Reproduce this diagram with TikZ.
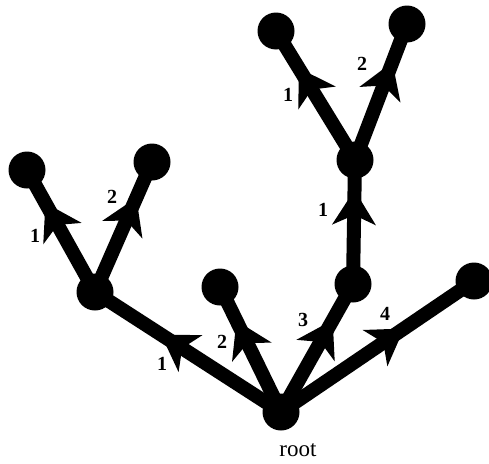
\documentclass[tikz,border=0pt]{standalone}
\usepackage{fontspec}
\setmainfont{Liberation Serif}
\usetikzlibrary{decorations.markings}
\begin{document}
\begin{tikzpicture}[x=1pt,y=-1pt,
  dot/.style={circle,fill=black,draw=none,minimum size=37pt,inner sep=0pt},
  edge/.style={line width=14pt,black,
    postaction={decorate},
    decoration={markings,mark=at position 0.5 with {\fill[black] (32pt,0) -- (-3pt,22pt) -- (7pt,0) -- (-3pt,-22pt) -- cycle;}}},
  lbl/.style={font=\bfseries\fontsize{20}{22}\selectfont,inner sep=0pt},
  rootlbl/.style={font=\fontsize{23}{26}\selectfont,inner sep=0pt,anchor=base}]
\useasboundingbox (0,0) rectangle (489,463);
% nodes
\node[dot] (r) at (281,412) {};
\node[dot] (a) at (95,292) {};
\node[dot] (a1) at (27,170) {};
\node[dot] (a2) at (152,162) {};
\node[dot] (b) at (220,287) {};
\node[dot] (c) at (353,284) {};
\node[dot] (c1) at (355,160) {};
\node[dot] (c11) at (276,31) {};
\node[dot] (c12) at (407,24) {};
\node[dot] (d) at (474,281) {};
% edges
\draw[edge] (r.center) -- (a.center);
\draw[edge] (r.center) -- (b.center);
\draw[edge] (r.center) -- (c.center);
\draw[edge] (r.center) -- (d.center);
\draw[edge] (a.center) -- (a1.center);
\draw[edge] (a.center) -- (a2.center);
\draw[edge] (c.center) -- (c1.center);
\draw[edge] (c1.center) -- (c11.center);
\draw[edge] (c1.center) -- (c12.center);
% labels
\node[lbl] (l1) at (162,364) {1};
\node[lbl] (l2) at (222,342) {2};
\node[lbl] (l3) at (303,320) {3};
\node[lbl] (l4) at (385,314) {4};
\node[lbl] (l5) at (35,236) {1};
\node[lbl] (l6) at (112,197) {2};
\node[lbl] (l7) at (323,210) {1};
\node[lbl] (l8) at (288,95) {1};
\node[lbl] (l9) at (362,64) {2};
\node[rootlbl] (rt) at (298,456) {root};
\end{tikzpicture}
\end{document}
